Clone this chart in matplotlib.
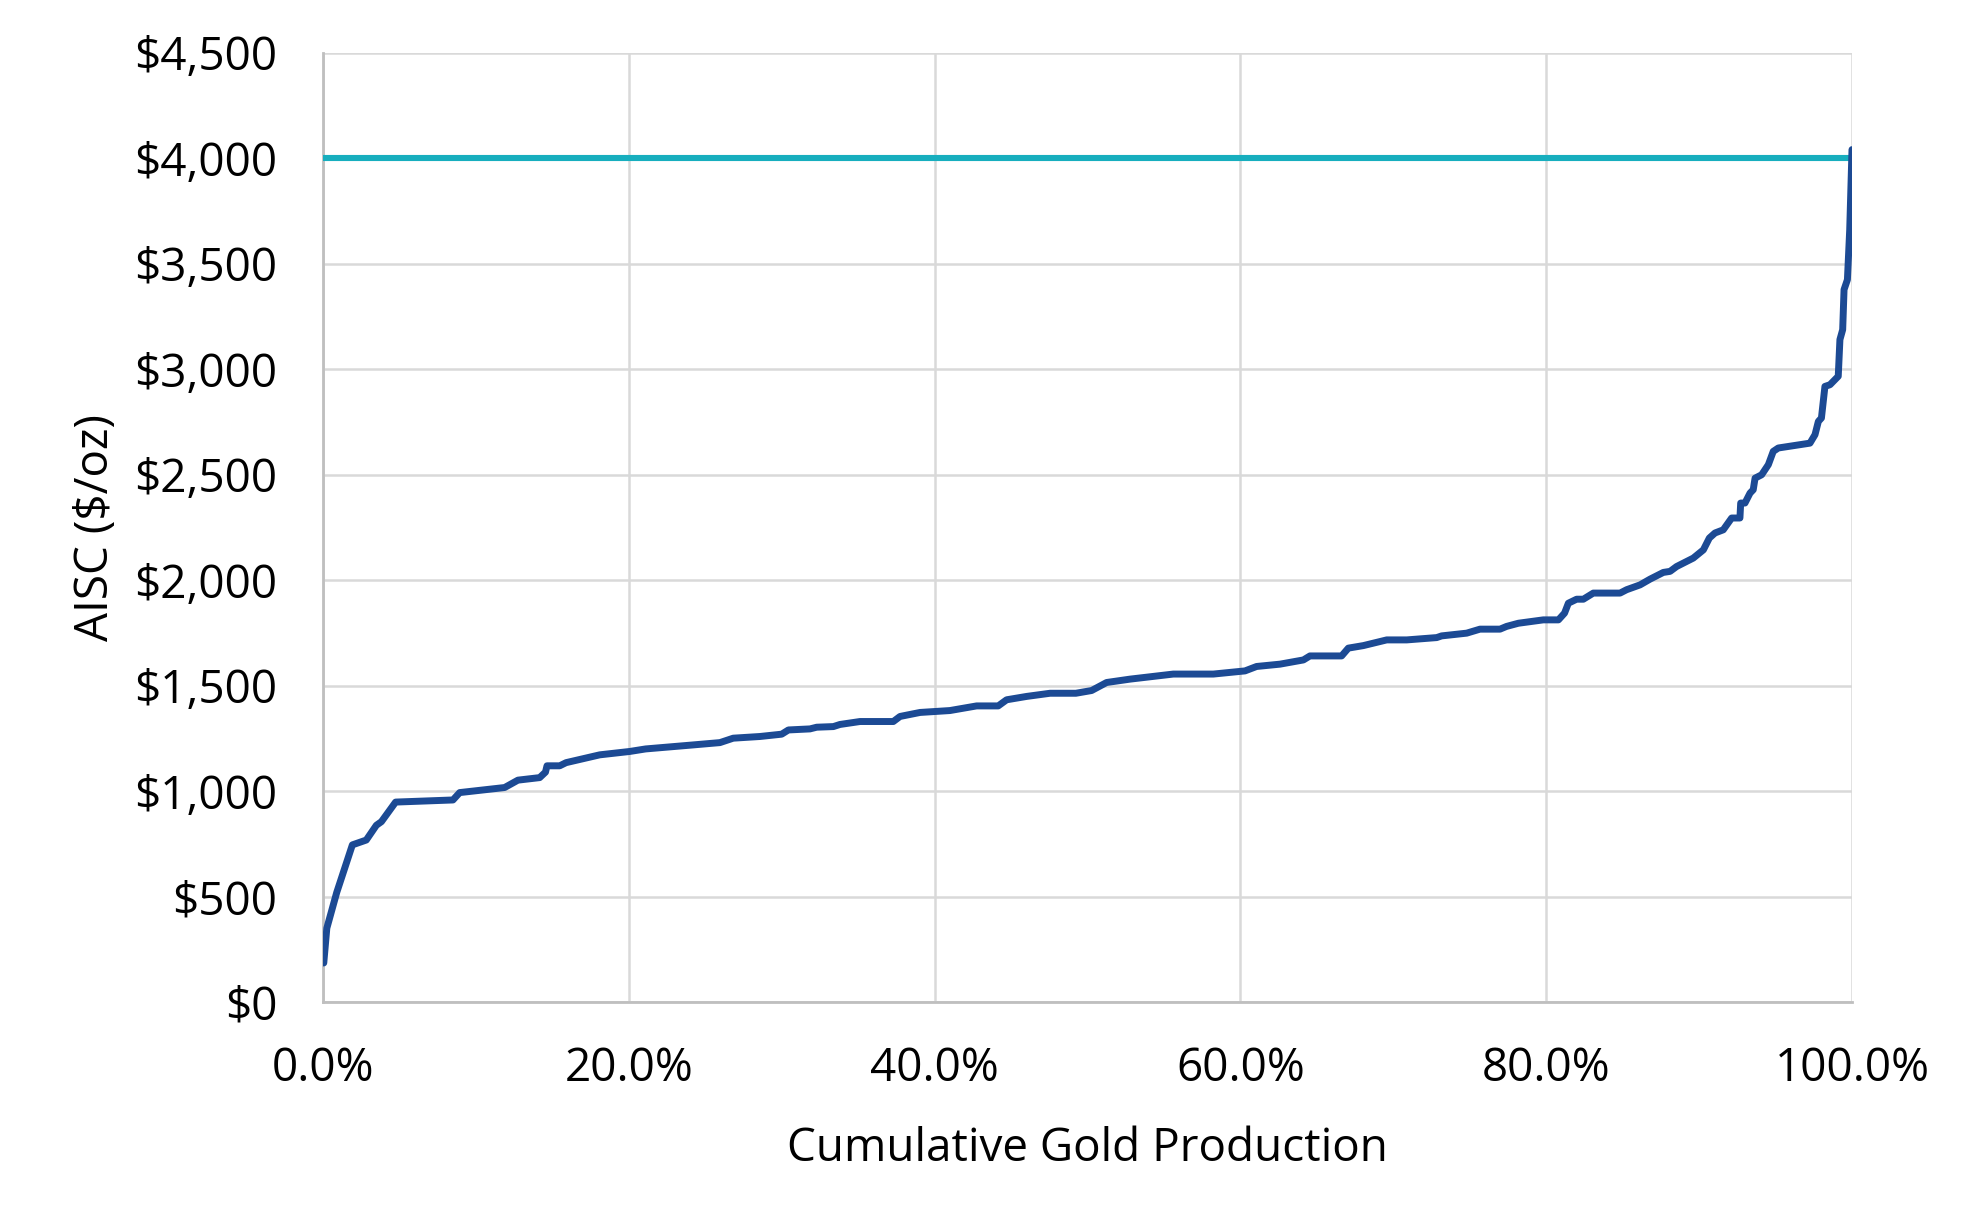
import matplotlib
matplotlib.use("Agg")
import matplotlib.pyplot as plt
from matplotlib.ticker import FuncFormatter, MultipleLocator

# ---- data ----
cum_production_pct = [
    0.05, 0.25, 0.9, 1.92, 2.83, 3.49, 3.82, 4.75, 8.5, 8.94, 11.88, 12.75, 14.17,
    14.55, 14.65, 15.48, 15.9, 18.1, 20.06, 21.1, 24.2, 25.96, 26.83, 28.58, 30.0,
    30.44, 31.85, 32.29, 33.38, 33.81, 35.12, 37.3, 37.74, 39.05, 41.0, 42.75,
    44.16, 44.71, 46.02, 47.55, 49.24, 50.27, 51.25, 52.78, 55.61, 58.23, 60.3,
    61.06, 62.59, 64.12, 64.55, 66.62, 67.06, 68.04, 69.57, 70.88, 72.84, 73.16,
    74.8, 75.67, 76.98, 77.41, 78.18, 79.81, 80.8, 81.2, 81.45, 81.99, 82.43,
    83.08, 84.83, 85.26, 86.14, 86.79, 87.66, 88.1, 88.53, 89.62, 90.28, 90.67,
    91.04, 91.58, 92.13, 92.67, 92.72, 93.0, 93.33, 93.54, 93.66, 94.09, 94.53,
    94.85, 95.18, 97.25, 97.58, 97.8, 98.0, 98.23, 98.56, 99.1, 99.21, 99.39,
    99.48, 99.7, 99.85, 100.0,
]
aisc_usd_oz = [
    185, 350, 520, 745, 768, 838, 855, 948, 958, 993, 1017, 1052, 1064,
    1090, 1120, 1120, 1135, 1172, 1188, 1200, 1219, 1230, 1251, 1259, 1270,
    1290, 1295, 1303, 1306, 1316, 1330, 1330, 1354, 1373, 1382, 1404,
    1404, 1433, 1449, 1464, 1464, 1477, 1515, 1531, 1555, 1555, 1570,
    1591, 1602, 1622, 1641, 1641, 1678, 1690, 1717, 1717, 1728, 1736,
    1749, 1768, 1768, 1781, 1796, 1812, 1812, 1844, 1891, 1910, 1910,
    1939, 1939, 1955, 1978, 2005, 2037, 2042, 2065, 2105, 2144, 2200,
    2224, 2239, 2295, 2295, 2366, 2366, 2413, 2429, 2484, 2500, 2548,
    2611, 2627, 2650, 2690, 2753, 2769, 2919, 2927, 2967, 3141, 3188,
    3378, 3425, 3662, 4042,
]
gold_price_x = [0.0, 100.0]
gold_price_y = [4000, 4000]

x_label = "Cumulative Gold Production"
y_label = "AISC ($/oz)"

# ---- figure ----
plt.rcParams['font.family'] = ['Open Sans', 'DejaVu Sans']
fig = plt.figure(figsize=(19.8, 12.31), dpi=100)
ax = fig.add_axes([323/1980, 1 - 1002/1231, 1529/1980, 949/1231])

ax.plot(gold_price_x, gold_price_y, color='#17AEBE', lw=4.4,
        solid_capstyle='butt', zorder=3)
ax.plot(cum_production_pct, aisc_usd_oz, color='#1C4A94', lw=5.0,
        solid_capstyle='round', solid_joinstyle='round', zorder=4)

ax.set_xlim(0, 100)
ax.set_ylim(0, 4500)
ax.xaxis.set_major_locator(MultipleLocator(20))
ax.yaxis.set_major_locator(MultipleLocator(500))
ax.xaxis.set_major_formatter(FuncFormatter(lambda v, p: f"{v:.1f}%"))
ax.yaxis.set_major_formatter(FuncFormatter(lambda v, p: f"${v:,.0f}"))

ax.grid(True, color='#D9D9D9', lw=1.8, zorder=0)
ax.set_axisbelow(True)
for side in ['top', 'right']:
    ax.spines[side].set_visible(False)
for side in ['left', 'bottom']:
    ax.spines[side].set_color('#BFBFBF')
    ax.spines[side].set_linewidth(2.0)

ax.tick_params(axis='both', length=0, labelsize=33, labelcolor='#000000')
ax.tick_params(axis='y', pad=33)
ax.tick_params(axis='x', pad=32)

ax.set_xlabel(x_label, fontsize=33, labelpad=24)
ax.set_ylabel(y_label, fontsize=33, labelpad=11)

fig.savefig("out.png", dpi=100, facecolor='white')
